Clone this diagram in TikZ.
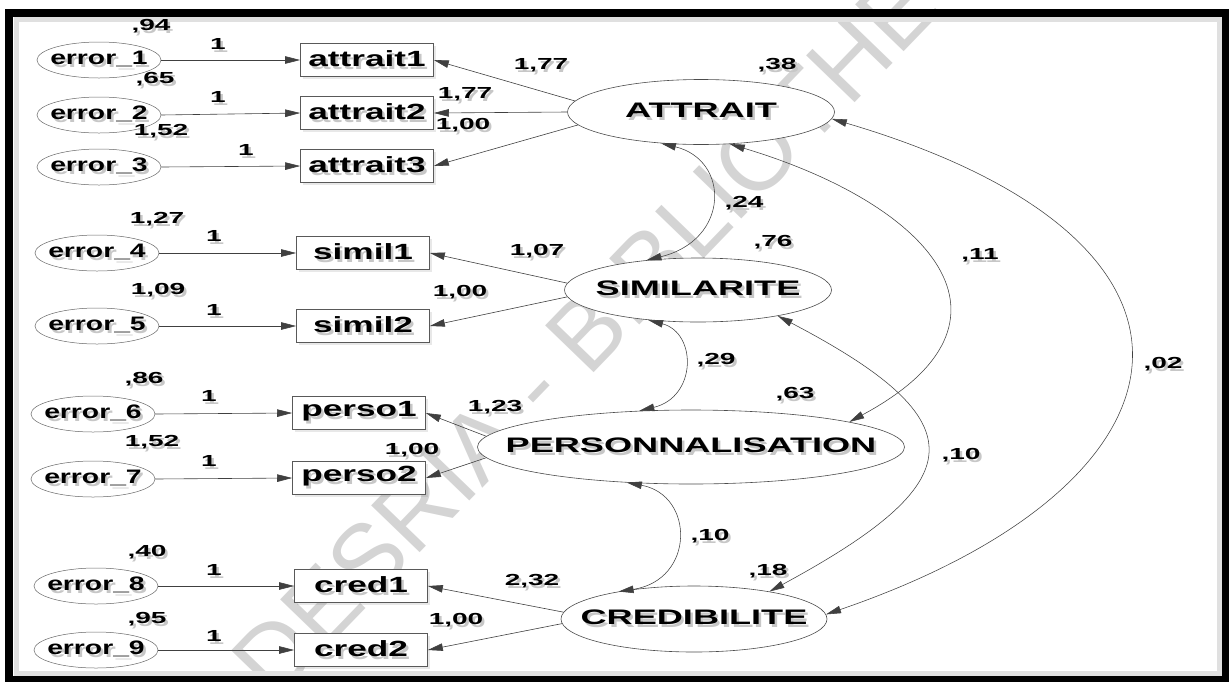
\documentclass[tikz,border=0pt]{standalone}
\usepackage{fontspec}
\setmainfont{Liberation Sans}
\newfontfamily\latfont{Liberation Sans}[FakeStretch=1.72]
\newfontfamily\obsfont{Liberation Sans}[FakeStretch=1.6]
\newfontfamily\errfont{Liberation Sans}[FakeStretch=1.45]
\newfontfamily\numfont{Liberation Sans}[FakeStretch=1.75]
\usetikzlibrary{arrows.meta,shapes.geometric,shadows}

% text with a soft grey drop shadow
\newcommand\shadowed[1]{\makebox[0pt][l]{\hspace{2.5pt}\raisebox{-3pt}{\textcolor{black!22}{#1}}}#1}
% zero-width centred text, so the shape keeps its own size
\newcommand\centred[1]{\makebox[0pt][c]{\shadowed{#1}}}

\tikzset{
  tip/.tip={Triangle[length=15pt,width=7.5pt]},
  latent/.style={ellipse, draw=black!70, line width=0.6pt, inner sep=0pt, fill=white,
    font=\latfont\bfseries\fontsize{21pt}{21pt}\selectfont},
  obsbox/.style={rectangle, draw=black!65, line width=0.7pt, fill=white, inner sep=0pt,
    minimum width=133pt, minimum height=33pt,
    drop shadow={shadow xshift=2pt, shadow yshift=-2.5pt, opacity=0.18},
    font=\obsfont\bfseries\fontsize{22pt}{22pt}\selectfont},
  errnode/.style={ellipse, draw=black!60, line width=0.5pt, inner sep=0pt, fill=white,
    minimum width=124pt, minimum height=36pt,
    font=\errfont\bfseries\fontsize{19.5pt}{19.5pt}\selectfont},
  num/.style={inner sep=0pt, font=\numfont\bfseries\fontsize{16pt}{16pt}\selectfont},
  load/.style={draw=black!75, line width=0.6pt, -tip},
  cov/.style={draw=black!75, line width=0.55pt, tip-tip},
}

\begin{document}
\begin{tikzpicture}[x=1pt,y=-1pt]
\useasboundingbox (0,0) rectangle (1229,681);

% watermark
\node[rotate=46, text=black!17, inner sep=0pt, font=\fontsize{98pt}{98pt}\selectfont]
  (mark) at (614,316) {CODESRIA - BIBLIOTHEQUE};

% frame with its inner shading
\draw[black!12, line width=5pt] (16,19.5) rectangle (1219,673);
\draw[line width=8pt] (9,12.5) rectangle (1226,680);

% error terms
\foreach \i/\x/\y in {1/99/60, 2/99/115, 3/99/167, 4/97/253, 5/97/326,
                      6/93/414, 7/93/479, 8/96/586, 9/96/650}
  \node[errnode] (e\i) at (\x,\y) {\centred{error\_\i}};

% indicators
\node[obsbox] (a1) at (367,60)  {\centred{attrait1}};
\node[obsbox] (a2) at (367,113) {\centred{attrait2}};
\node[obsbox] (a3) at (367,166) {\centred{attrait3}};
\node[obsbox] (s1) at (363,253) {\centred{simil1}};
\node[obsbox] (s2) at (363,326) {\centred{simil2}};
\node[obsbox] (p1) at (359,413) {\centred{perso1}};
\node[obsbox] (p2) at (359,478) {\centred{perso2}};
\node[obsbox] (c1) at (361,586) {\centred{cred1}};
\node[obsbox] (c2) at (361,650) {\centred{cred2}};

% latent variables
\node[latent, minimum width=267pt, minimum height=65pt] (ATT) at (701,112) {\centred{ATTRAIT}};
\node[latent, minimum width=267pt, minimum height=64pt] (SIM) at (698,290) {\centred{SIMILARITE}};
\node[latent, minimum width=427pt, minimum height=74pt] (PER) at (691,447) {\centred{PERSONNALISATION}};
\node[latent, minimum width=266pt, minimum height=66pt] (CRE) at (694,619) {\centred{CREDIBILITE}};

% error paths
\foreach \i/\t in {1/a1, 2/a2, 3/a3, 4/s1, 5/s2, 6/p1, 7/p2, 8/c1, 9/c2}
  \draw[load] (e\i.east) -- (\t.west);

% loadings
\draw[load] (ATT.175) -- (a1.east);
\draw[load] (ATT.180) -- (a2.east);
\draw[load] (ATT.186) -- (a3.east);
\draw[load] (SIM.177) -- (s1.east);
\draw[load] (SIM.183) -- (s2.east);
\draw[load] (PER.177) -- (p1.east);
\draw[load] (PER.183) -- (p2.east);
\draw[load] (CRE.177) -- (c1.east);
\draw[load] (CRE.182) -- (c2.east);

% covariances
\draw[cov] (ATT.218) .. controls (730,160) and (730,240) .. (SIM.150);
\draw[cov] (SIM.211) .. controls (697,333) and (697,397) .. (PER.145);
\draw[cov] (PER.209) .. controls (695,495) and (695,580) .. (CRE.160);
\draw[cov] (ATT.312) .. controls (930,204) and (1037,321) .. (PER.9);
\draw[cov] (SIM.342) .. controls (981,422) and (972,482) .. (CRE.20);
\draw[cov] (ATT.-3) .. controls (1253,243) and (1204,485) .. (CRE.2);

% error variances and fixed weights
\node[num] (v1) at (151,28)  {\shadowed{,94}};
\node[num] (v2) at (155,81)  {\shadowed{,65}};
\node[num] (v3) at (161,133) {\shadowed{1,52}};
\node[num] (v4) at (157,221) {\shadowed{1,27}};
\node[num] (v5) at (158,292) {\shadowed{1,09}};
\node[num] (v6) at (144,381) {\shadowed{,86}};
\node[num] (v7) at (152,444) {\shadowed{1,52}};
\node[num] (v8) at (147,554) {\shadowed{,40}};
\node[num] (v9) at (147,621) {\shadowed{,95}};
\foreach \i/\x/\y in {1/218/45, 2/218/98, 3/246/151, 4/214/237, 5/214/311,
                      6/209/397, 7/209/462, 8/214/571, 9/214/637}
  \node[num] (w\i) at (\x,\y) {\shadowed{1}};

% loading estimates
\node[num] (l1) at (541,67)  {\shadowed{1,77}};
\node[num] (l2) at (465,96)  {\shadowed{1,77}};
\node[num] (l3) at (463,127) {\shadowed{1,00}};
\node[num] (l4) at (537,253) {\shadowed{1,07}};
\node[num] (l5) at (460,294) {\shadowed{1,00}};
\node[num] (l6) at (495,409) {\shadowed{1,23}};
\node[num] (l7) at (412,452) {\shadowed{1,00}};
\node[num] (l8) at (532,583) {\shadowed{2,32}};
\node[num] (l9) at (456,622) {\shadowed{1,00}};

% latent variances
\node[num] (r1) at (777,67)  {\shadowed{,38}};
\node[num] (r2) at (773,244) {\shadowed{,76}};
\node[num] (r3) at (795,396) {\shadowed{,63}};
\node[num] (r4) at (768,573) {\shadowed{,18}};

% covariance estimates
\node[num] (k1) at (744,205)  {\shadowed{,24}};
\node[num] (k2) at (716,362)  {\shadowed{,29}};
\node[num] (k3) at (710,538)  {\shadowed{,10}};
\node[num] (k4) at (980,257)  {\shadowed{,11}};
\node[num] (k5) at (961,457)  {\shadowed{,10}};
\node[num] (k6) at (1163,366) {\shadowed{,02}};
\end{tikzpicture}
\end{document}
